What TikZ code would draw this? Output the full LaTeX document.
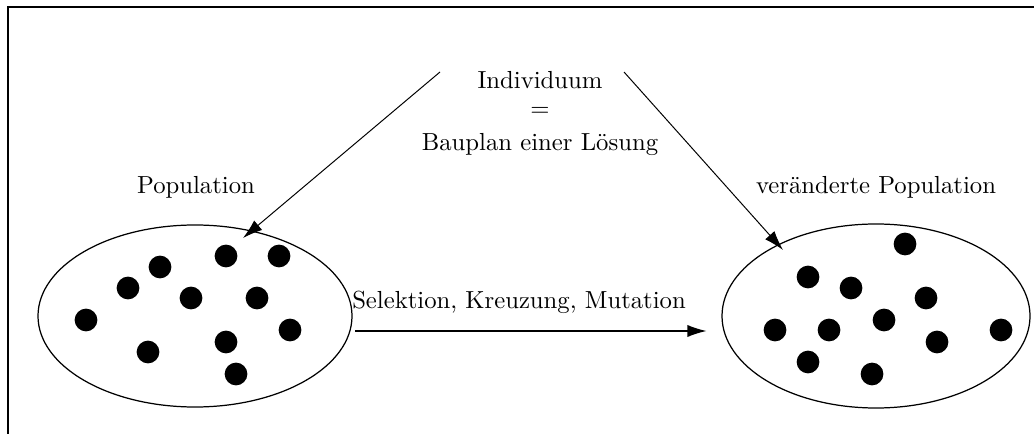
\documentclass[tikz,border=0pt]{standalone}
\usetikzlibrary{arrows.meta}
\begin{document}
\begin{tikzpicture}[x=0.405pt,y=-0.405pt,
  dot/.style={fill=black,circle,inner sep=0pt,minimum size=9.2pt},
  pop/.style={draw,line width=0.5pt},
  lab/.style={inner sep=0pt,anchor=center},
  arr/.style={line width=0.4pt,-{Latex[length=8pt,width=5pt]}}]
\useasboundingbox (0,0) rectangle (1034,434);
\draw[line width=0.9pt] (8,434) -- (8,7) -- (1034,7);
\draw[pop] (195,316) ellipse [x radius=157, y radius=91];
\draw[pop] (876,316) ellipse [x radius=154, y radius=92];
\foreach \p [count=\i] in {(160,267),(226,256),(279,256),(128,288),(191,298),(257,298),(86,320),(290,330),(148,352),(226,342),(236,374)}
  \node[dot] (l\i) at \p {};
\foreach \p [count=\i] in {(905,244),(808,277),(851,288),(926,298),(884,320),(775,330),(829,330),(1001,330),(937,342),(808,362),(872,374)}
  \node[dot] (r\i) at \p {};
\node[lab] (ind) at (540,80) {Individuum};
\node[lab] (eq) at (540,112) {$=$};
\node[lab] (bau) at (540,144) {Bauplan einer L\"osung};
\node[lab] (pl) at (196,187) {Population};
\node[lab] (pr) at (876,187) {ver\"anderte Population};
\node[lab] (sel) at (519,302) {Selektion, Kreuzung, Mutation};
\coordinate (a1) at (440,72);
\coordinate (a1e) at (243,238);
\coordinate (a2) at (624,72);
\coordinate (a2e) at (783,250);
\coordinate (h1) at (355,331);
\coordinate (h2) at (707,331);
\draw[arr] (a1) -- (a1e);
\draw[arr] (a2) -- (a2e);
\draw[arr,line width=0.8pt] (h1) -- (h2);
\end{tikzpicture}
\end{document}
